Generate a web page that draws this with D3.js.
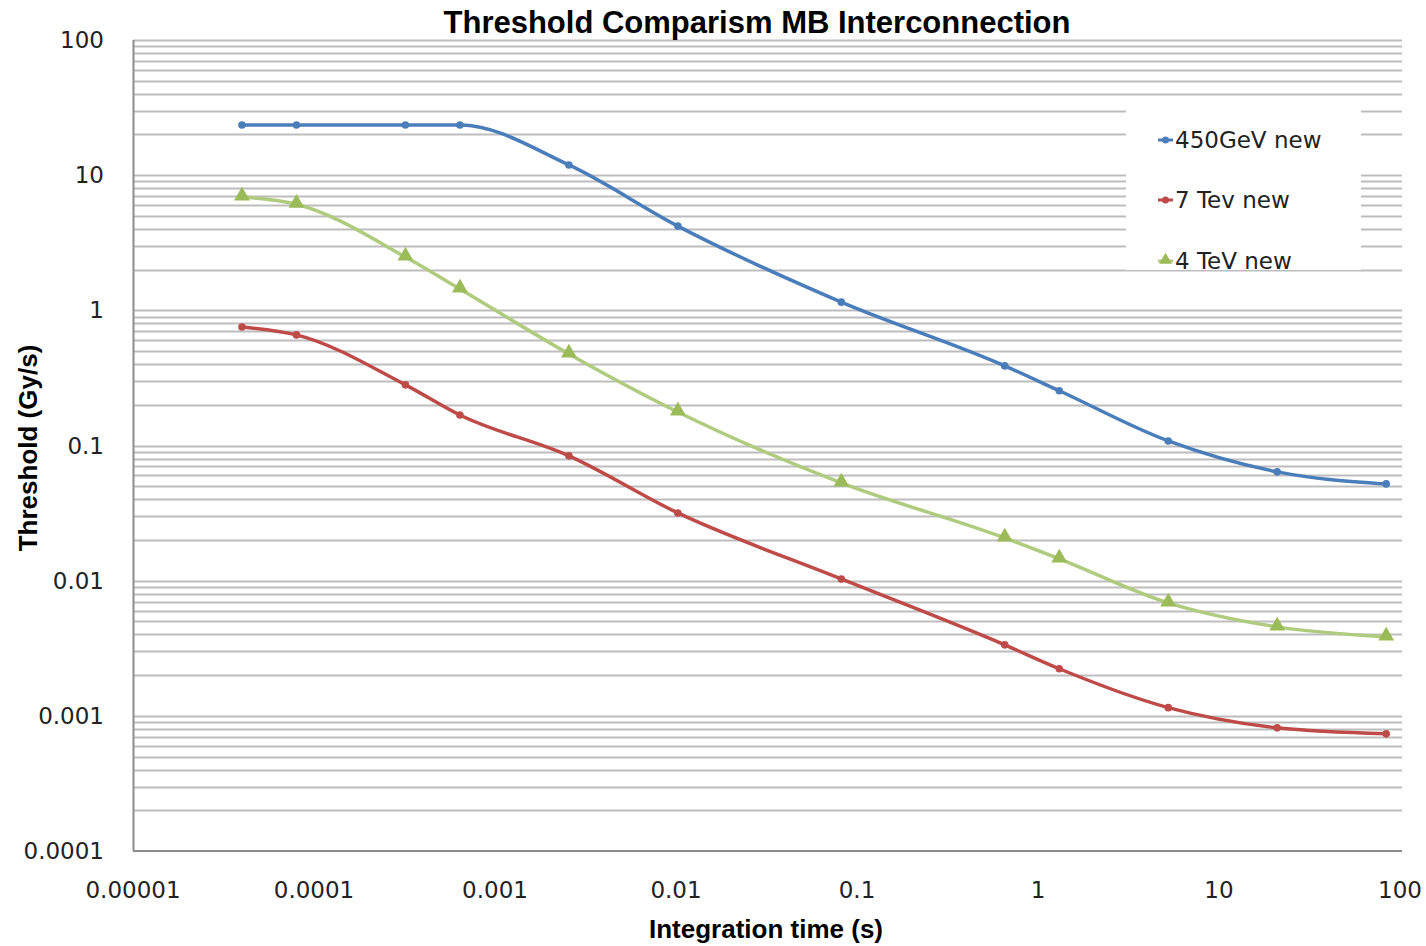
<!DOCTYPE html>
<html>
<head>
<meta charset="utf-8">
<script src="https://cdn.jsdelivr.net/npm/d3@7"></script>
<style>
  body { margin: 0; background: #fff; }
  text { font-family: "DejaVu Sans", sans-serif; }
  .bold { font-family: "Liberation Sans", Arial, sans-serif; font-weight: bold; }
</style>
</head>
<body>
<div id="chart-area"></div>
<script>
// integration times (s) of the running sums
var times = [4e-5, 8e-5, 3.2e-4, 6.4e-4, 2.56e-3, 1.024e-2, 8.192e-2, 0.655, 1.311, 5.243, 20.97, 83.89];

var gev450 = [23.5, 23.5, 23.5, 23.5, 11.9, 4.2, 1.15, 0.388, 0.254, 0.108, 0.0638, 0.052];
var tev7 = [0.753, 0.658, 0.281, 0.168, 0.0838, 0.0317, 0.0103, 0.00335, 0.00223, 0.00115, 0.000815, 0.000736];
var tev4 = [6.9, 6.1, 2.48, 1.44, 0.476, 0.177, 0.0529, 0.0207, 0.0145, 0.00685, 0.00455, 0.00384];

var seriesNames = ["450GeV new", "7 Tev new", "4 TeV new"];
var xTickLabels = ["0.00001", "0.0001", "0.001", "0.01", "0.1", "1", "10", "100"];
var yTickLabels = ["0.0001", "0.001", "0.01", "0.1", "1", "10", "100"];

var series = [
    { name: seriesNames[0], values: gev450, color: "#4a7ebb", marker: "circle" },
    { name: seriesNames[1], values: tev7, color: "#be4b48", marker: "circle" },
    { name: seriesNames[2], values: tev4, color: "#9bbb59", line: "#aecb7e", marker: "triangle" }
];

var width = 1426, height = 946;
var margin = { left: 133, right: 26, top: 40, bottom: 95 };
var w = width - margin.left - margin.right;
var h = height - margin.top - margin.bottom;

var svg = d3.select("#chart-area").append("svg")
    .attr("width", width)
    .attr("height", height);

var g = svg.append("g")
    .attr("transform", "translate(" + margin.left + "," + margin.top + ")");

var x = d3.scaleLog().domain([1e-5, 100]).range([0, w]);
var y = d3.scaleLog().domain([1e-4, 100]).range([h, 0]);

// horizontal gridlines, major + minor
var gridVals = [];
for (var e = -4; e < 2; e++) {
    for (var k = 1; k <= 9; k++) gridVals.push(k * Math.pow(10, e));
}
gridVals.push(100);

g.selectAll(".grid").data(gridVals.filter(function(d) { return d > 1e-4 * 1.01; }))
    .enter().append("line")
    .attr("class", "grid")
    .attr("x1", 0)
    .attr("x2", w + 2)
    .attr("y1", function(d) { return Math.round(y(d)) + 0.5; })
    .attr("y2", function(d) { return Math.round(y(d)) + 0.5; })
    .attr("stroke", "#bdbdbd")
    .attr("stroke-width", 2);

// axes lines
g.append("line").attr("x1", 0.5).attr("x2", 0.5).attr("y1", 0).attr("y2", h)
    .attr("stroke", "#8c8c8c").attr("stroke-width", 2);
g.append("line").attr("x1", 0).attr("x2", w + 2).attr("y1", h).attr("y2", h)
    .attr("stroke", "#8c8c8c").attr("stroke-width", 2);

// tick labels
var yTicks = yTickLabels.map(function(d) { return +d; });
g.selectAll(".ylab").data(yTicks).enter().append("text")
    .attr("x", -29)
    .attr("y", function(d) { return y(d) + 8; })
    .attr("text-anchor", "end")
    .style("font-size", "23px")
    .style("fill", "#222")
    .text(function(d, i) { return yTickLabels[i]; });

var xTicks = xTickLabels.map(function(d) { return +d; });
g.selectAll(".xlab").data(xTicks).enter().append("text")
    .attr("x", function(d) { return x(d); })
    .attr("y", h + 47)
    .attr("text-anchor", "middle")
    .style("font-size", "23px")
    .style("fill", "#222")
    .text(function(d, i) { return xTickLabels[i]; });

// legend box (covers gridlines)
var legend = svg.append("g");
legend.append("rect")
    .attr("x", 1126).attr("y", 104)
    .attr("width", 235).attr("height", 166)
    .attr("fill", "#fff");

// lines
var line = d3.line()
    .x(function(d) { return x(d[0]); })
    .y(function(d) { return y(d[1]); })
    .curve(d3.curveMonotoneX);

var triangle = d3.symbol().type(d3.symbolTriangle).size(110);

series.forEach(function(s) {
    var pts = times.map(function(t, i) { return [t, s.values[i]]; });
    g.append("path")
        .datum(pts)
        .attr("fill", "none")
        .attr("stroke", s.line || s.color)
        .attr("stroke-width", 3.5)
        .attr("d", line);

    if (s.marker === "circle") {
        g.selectAll(null).data(pts).enter().append("circle")
            .attr("cx", function(d) { return x(d[0]); })
            .attr("cy", function(d) { return y(d[1]); })
            .attr("r", 3.8)
            .attr("fill", s.color);
    } else {
        g.selectAll(null).data(pts).enter().append("path")
            .attr("d", triangle)
            .attr("transform", function(d) { return "translate(" + x(d[0]) + "," + (y(d[1]) - 1) + ")"; })
            .attr("fill", s.color);
    }
});

// legend entries
var legendY = [140, 200, 261];
series.forEach(function(s, i) {
    var ly = legendY[i];
    legend.append("line")
        .attr("x1", 1158).attr("x2", 1173)
        .attr("y1", ly).attr("y2", ly)
        .attr("stroke", s.line || s.color).attr("stroke-width", 3);
    if (s.marker === "circle") {
        legend.append("circle").attr("cx", 1165.5).attr("cy", ly).attr("r", 3.5).attr("fill", s.color);
    } else {
        legend.append("path").attr("d", d3.symbol().type(d3.symbolTriangle).size(70))
            .attr("transform", "translate(1165.5," + (ly - 1) + ")")
            .attr("fill", s.color);
    }
    legend.append("text")
        .attr("x", 1175).attr("y", ly + 8)
        .style("font-size", "23px")
        .style("fill", "#222")
        .text(s.name);
});

// title and axis labels
svg.append("text")
    .attr("class", "bold")
    .attr("x", 757).attr("y", 33)
    .attr("text-anchor", "middle")
    .style("font-size", "31px")
    .text("Threshold Comparism MB Interconnection");

svg.append("text")
    .attr("class", "bold")
    .attr("x", 766).attr("y", 938)
    .attr("text-anchor", "middle")
    .style("font-size", "26px")
    .text("Integration time (s)");

svg.append("text")
    .attr("class", "bold")
    .attr("transform", "translate(37,448) rotate(-90)")
    .attr("text-anchor", "middle")
    .style("font-size", "26px")
    .text("Threshold (Gy/s)");
</script>
</body>
</html>
